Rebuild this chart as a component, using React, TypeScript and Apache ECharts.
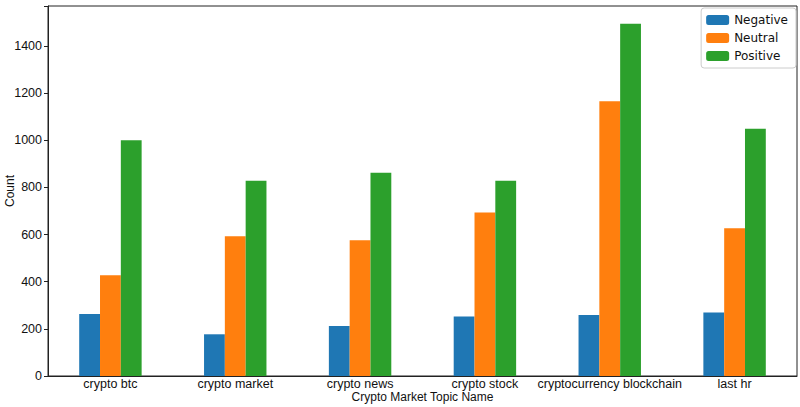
import React, { useEffect, useRef } from "react";
import * as echarts from "echarts";

const categories = ["crypto btc", "crypto market", "crypto news", "crypto stock", "cryptocurrency blockchain", "last hr"];
const negative = [263, 177, 212, 252, 259, 269];
const neutral = [427, 593, 576, 694, 1166, 627];
const positive = [1000, 829, 862, 829, 1495, 1049];

const FONT = "Liberation Sans, Arial, sans-serif";

export default function App() {
  const ref = useRef<HTMLDivElement>(null);
  useEffect(() => {
    const chart = echarts.init(ref.current!, undefined, { renderer: "svg" });
    const barStyle = (name: string, color: string, data: number[]) => ({
      name,
      type: "bar",
      data,
      barWidth: "16.67%",
      barGap: "0%",
      itemStyle: { color },
    });
    chart.setOption({
      animation: false,
      textStyle: { fontFamily: FONT },
      grid: {
        left: 48, right: 3, top: 6, bottom: 31,
        containLabel: false, outerBoundsMode: "none",
        show: true, borderColor: "#222", borderWidth: 1, backgroundColor: "transparent",
      },
      legend: {
        right: 4,
        top: 8,
        orient: "vertical",
        itemWidth: 23,
        itemHeight: 10,
        itemGap: 6,
        padding: [6, 8, 6, 5],
        borderColor: "#ccc",
        borderWidth: 1,
        borderRadius: 3,
        textStyle: { fontSize: 12, color: "#111", fontFamily: "DejaVu Sans, sans-serif" },
        data: ["Negative", "Neutral", "Positive"],
      },
      xAxis: {
        type: "category",
        data: categories,
        name: "Crypto Market Topic Name",
        nameLocation: "middle",
        nameGap: 15,
        nameMoveOverlap: false,
        nameTextStyle: { fontSize: 12, color: "#111", lineHeight: 12, verticalAlign: "top" },
        axisLine: { lineStyle: { color: "#222" } },
        axisTick: { alignWithLabel: true, length: 4, lineStyle: { color: "#222" } },
        axisLabel: { fontSize: 12.5, lineHeight: 12, color: "#111", margin: 2, interval: 0 },
      },
      yAxis: {
        type: "value",
        min: 0,
        max: 1570,
        interval: 200,
        name: "Count",
        nameLocation: "middle",
        nameGap: 32,
        nameMoveOverlap: false,
        nameTextStyle: { fontSize: 12, color: "#111" },
        splitLine: { show: false },
        axisLine: { show: true, lineStyle: { color: "#222" } },
        axisTick: { show: true, length: 4, lineStyle: { color: "#222" } },
        axisLabel: {
          fontSize: 12.5,
          color: "#111",
          margin: 6,
          formatter: (v: number) => (v % 200 === 0 ? String(v) : ""),
        },
      },
      series: [
        barStyle("Negative", "#1f77b4", negative),
        barStyle("Neutral", "#ff7f0e", neutral),
        barStyle("Positive", "#2ca02c", positive),
      ],
    });
    return () => chart.dispose();
  }, []);
  return <div ref={ref} style={{ width: 800, height: 407, position: "absolute", left: 0, top: 0 }} />;
}
